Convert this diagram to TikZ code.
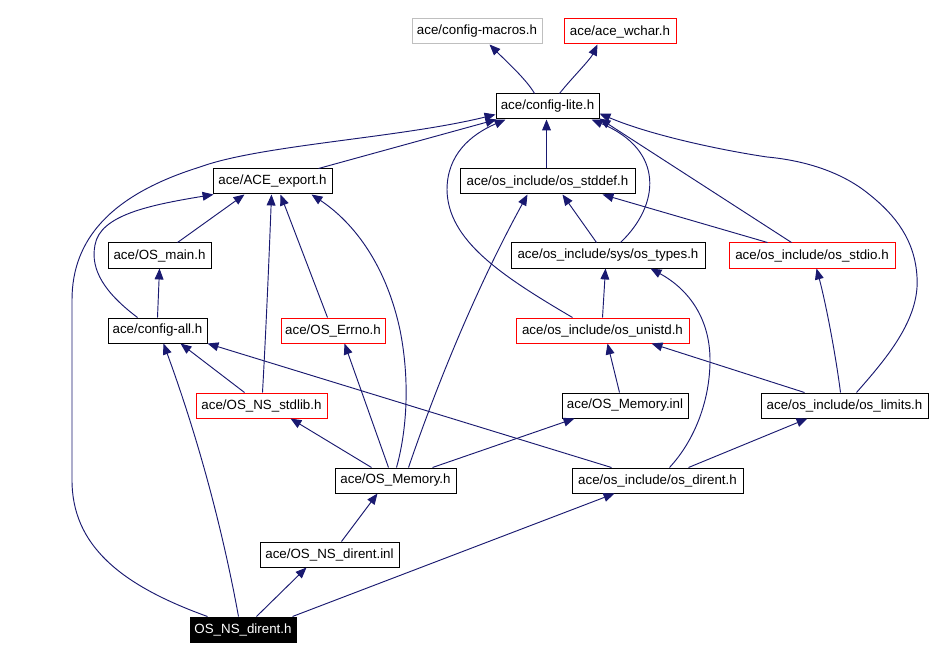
\documentclass[tikz,border=0pt]{standalone}
\usepackage{fontspec}
\setmainfont{Liberation Sans}
\usetikzlibrary{arrows.meta,calc}
\definecolor{mblue}{HTML}{191970}
\definecolor{gbox}{HTML}{BFBFBF}
\definecolor{rbox}{HTML}{FF0000}
\begin{document}
\begin{tikzpicture}[x=0.75pt,y=-0.75pt,
 box/.style={draw=black,line width=0.75pt,minimum height=18.75pt,inner sep=0pt,font=\fontsize{10pt}{12pt}\selectfont},
 bw/.style={minimum width=#1*0.75pt},
 redbox/.style={box,draw=rbox},
 graybox/.style={box,draw=gbox},
 blackbox/.style={box,fill=black,text=white},
 dep/.style={draw=mblue,line width=0.7pt,-{Triangle[length=8.2pt,width=6.6pt]}}]
\useasboundingbox[fill=white] (0,0) rectangle (952,659);

\node[graybox,bw=130] (macros) at (477,31.5) {ace/config-macros.h};
\node[redbox,bw=112] (wchar) at (620,31.5) {ace/ace\_wchar.h};
\node[box,bw=103] (lite) at (547.5,106.5) {ace/config-lite.h};
\node[box,bw=175] (stddef) at (547.5,181.5) {ace/os\_include/os\_stddef.h};
\node[box,bw=119] (export) at (272.5,181.5) {ace/ACE\_export.h};
\node[box,bw=103] (main) at (159.5,255.5) {ace/OS\_main.h};
\node[box,bw=194] (types) at (608,255.5) {ace/os\_include/sys/os\_types.h};
\node[redbox,bw=166] (stdio) at (812,255.5) {ace/os\_include/os\_stdio.h};
\node[box,bw=99] (configall) at (157.5,330.5) {ace/config-all.h};
\node[redbox,bw=104] (errno) at (333,330.5) {ace/OS\_Errno.h};
\node[redbox,bw=173] (unistd) at (602.5,330.5) {ace/os\_include/os\_unistd.h};
\node[redbox,bw=131] (stdlib) at (261.5,405.5) {ace/OS\_NS\_stdlib.h};
\node[box,bw=126] (meminl) at (625,405.5) {ace/OS\_Memory.inl};
\node[box,bw=167] (limits) at (844.5,405.5) {ace/os\_include/os\_limits.h};
\node[box,bw=121] (memh) at (395.5,480.5) {ace/OS\_Memory.h};
\node[box,bw=171] (dirent) at (657.5,480.5) {ace/os\_include/os\_dirent.h};
\node[box,bw=139] (nsinl) at (329.5,554.5) {ace/OS\_NS\_dirent.inl};
\node[blackbox,bw=106] (nsdirent) at (243,629.5) {OS\_NS\_dirent.h};

% into config-macros / ace_wchar
\draw[dep] ($(lite.north west)+(39,0)$) .. controls (527,80) and (505,60) .. ($(macros.south west)+(78,0)$);
\draw[dep] ($(lite.north west)+(64,0)$) .. controls (570,80) and (590,60) .. ($(wchar.south west)+(34,0)$);
% into config-lite
\draw[dep] ($(export.north west)+(106,0)$) -- ($(lite.south west)+(1,0)$);
\draw[dep] ($(stddef.north west)+(87,0)$) -- ($(lite.south west)+(51,0)$);
\draw[dep] ($(types.north west)+(110,0)$) .. controls (660,205) and (665,150) .. ($(lite.south east)+(-8,0)$);
\draw[dep] ($(stdio.north west)+(63,0)$) -- ($(lite.south east)+(0,-1)$);
\draw[dep] ($(limits.north west)+(96,0)$) .. controls (885,360) and (920,320) .. (917,277)
   .. controls (915,240) and (895,215) .. (870,195) .. controls (840,170) and (800,160) .. (767,157)
   .. controls (720,150) and (650,135) .. ($(lite.south east)+(0,-6)$);
\draw[dep] ($(unistd.north west)+(57,0)$) .. controls (500,275) and (448,240) .. (447,190)
   .. controls (447,155) and (470,135) .. ($(lite.south west)+(10,0)$);
\draw[dep] ($(nsdirent.north west)+(18,0)$) .. controls (120,585) and (72,545) .. (72,480) -- (72,300)
   .. controls (72,240) and (110,195) .. (200,167) .. controls (260,145) and (400,138) .. ($(lite.south west)+(0,-5)$);
% into ACE_export
\draw[dep] ($(main.north west)+(70,0)$) -- ($(export.south west)+(32,0)$);
\draw[dep] ($(configall.north west)+(30,0)$) .. controls (105,293) and (90,270) .. (95,245)
   .. controls (100,215) and (150,205) .. ($(export.south west)+(1,0)$);
\draw[dep] ($(stdlib.north west)+(67,0)$) .. controls (266,330) and (269,260) .. ($(export.south west)+(59,0)$);
\draw[dep] ($(errno.north west)+(47,0)$) -- ($(export.south west)+(68,0)$);
\draw[dep] ($(memh.north west)+(62,0)$) .. controls (407,430) and (410,380) .. (400,330)
   .. controls (385,260) and (350,220) .. ($(export.south west)+(99,0)$);
% into OS_main / config-all
\draw[dep] ($(configall.north west)+(50,0)$) -- ($(main.south west)+(52,0)$);
\draw[dep] ($(stdlib.north west)+(49,0)$) -- ($(configall.south west)+(73,0)$);
\draw[dep] ($(dirent.north west)+(40,0)$) -- (configall.south east);
\draw[dep] ($(nsdirent.north west)+(49,0)$) .. controls (222,526) and (197,435) .. ($(configall.south west)+(56,0)$);
% into os_stddef
\draw[dep] ($(memh.north west)+(74,0)$) .. controls (435,390) and (475,290) .. ($(stddef.south west)+(68,0)$);
\draw[dep] ($(types.north west)+(86,0)$) -- ($(stddef.south west)+(103,0)$);
\draw[dep] ($(stdio.north west)+(39,0)$) -- ($(stddef.south west)+(143,0)$);
% into os_types
\draw[dep] ($(unistd.north west)+(87,0)$) -- ($(types.south west)+(95,0)$);
\draw[dep] ($(dirent.north west)+(98,0)$) .. controls (695,440) and (710,400) .. (710,360)
   .. controls (710,320) and (690,290) .. ($(types.south west)+(140,0)$);
% into os_unistd / os_stdio
\draw[dep] ($(meminl.north west)+(58,0)$) -- ($(unistd.south west)+(92,0)$);
\draw[dep] ($(limits.north west)+(44,0)$) -- ($(unistd.south west)+(136,0)$);
\draw[dep] ($(limits.north west)+(80,0)$) .. controls (835,350) and (825,300) .. ($(stdio.south west)+(88,0)$);
% lower edges
\draw[dep] ($(memh.north west)+(98,0)$) -- ($(meminl.south west)+(13,0)$);
\draw[dep] ($(dirent.north west)+(117,0)$) -- ($(limits.south west)+(47,0)$);
\draw[dep] ($(memh.north west)+(37,0)$) -- ($(stdlib.south west)+(95,0)$);
\draw[dep] ($(memh.north west)+(54,0)$) -- ($(errno.south west)+(64,0)$);
\draw[dep] ($(nsinl.north west)+(82,0)$) -- ($(memh.south west)+(43,0)$);
\draw[dep] ($(nsdirent.north west)+(67,0)$) -- ($(nsinl.south west)+(47,0)$);
\draw[dep] ($(nsdirent.north west)+(103,0)$) -- ($(dirent.south west)+(43,0)$);
\end{tikzpicture}
\end{document}
